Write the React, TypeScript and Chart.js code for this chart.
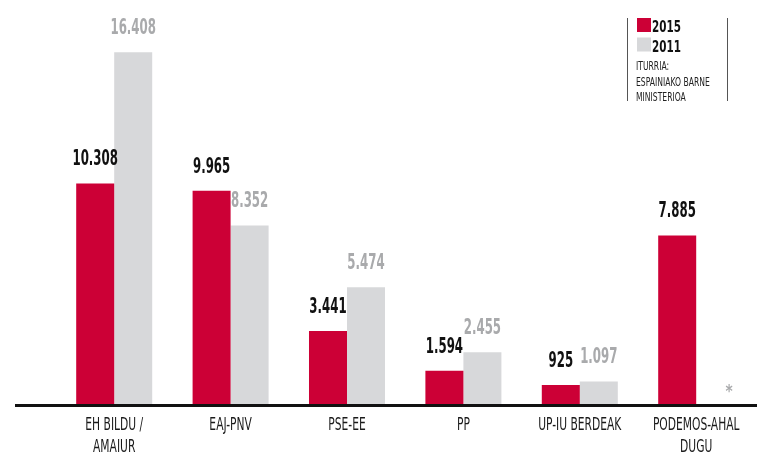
import React, { useEffect, useRef } from "react";
import { Chart, registerables } from "chart.js";

Chart.register(...registerables);

const categories: string[][] = [
  ["EH BILDU /", "AMAIUR"],
  ["EAJ-PNV"],
  ["PSE-EE"],
  ["PP"],
  ["UP-IU BERDEAK"],
  ["PODEMOS-AHAL", "DUGU"],
];
const votes2015: number[] = [10308, 9965, 3441, 1594, 925, 7885];
const votes2011: (number | null)[] = [16408, 8352, 5474, 2455, 1097, null];
const legendLabels = ["2015", "2011"];
const sourceLines = ["ITURRIA:", "ESPAINIAKO BARNE", "MINISTERIOA"];

const RED = "#cc0036";
const GREY = "#d7d8da";
const COND = '"DejaVu Sans Condensed", "DejaVu Sans", sans-serif';

const fmt = (v: number) => v.toLocaleString("de-DE");

function squeezeText(
  ctx: CanvasRenderingContext2D,
  text: string,
  x: number,
  y: number,
  font: string,
  color: string,
  align: CanvasTextAlign,
  sx: number
) {
  ctx.save();
  ctx.font = font;
  ctx.fillStyle = color;
  ctx.textAlign = align;
  ctx.textBaseline = "alphabetic";
  ctx.translate(x, y);
  ctx.scale(sx, 1);
  ctx.fillText(text, 0, 0);
  ctx.restore();
}

const decorPlugin = {
  id: "decor",
  afterDatasetsDraw(chart: any) {
    const ctx = chart.ctx;
    const xs = chart.scales.x;
    const ys = chart.scales.y;
    ctx.save();
    // value labels
    chart.data.datasets.forEach((ds: any, di: number) => {
      const meta = chart.getDatasetMeta(di);
      meta.data.forEach((bar: any, i: number) => {
        const v = ds.data[i];
        if (v == null) return;
        squeezeText(
          ctx,
          fmt(v),
          bar.x,
          bar.y - 18,
          `bold 20.5px ${COND}`,
          di === 0 ? "#111111" : "#a9aaac",
          "center",
          0.64
        );
      });
    });
    // asterisk for missing 2011 value
    chart.data.datasets[1].data.forEach((v: any, i: number) => {
      if (v == null) {
        const x = xs.getPixelForValue(i) + 33;
        squeezeText(ctx, "*", x, ys.bottom - 8, `bold 17px ${COND}`, "#a9aaac", "center", 0.9);
      }
    });
    // category labels
    categories.forEach((lines, i) => {
      const cx = xs.getPixelForValue(i);
      lines.forEach((t, li) => {
        squeezeText(ctx, t, cx, ys.bottom + 25 + li * 22, `17.5px ${COND}`, "#1a1a1a", "center", 0.68);
      });
    });
    // baseline
    ctx.strokeStyle = "#111111";
    ctx.lineWidth = 3;
    ctx.beginPath();
    ctx.moveTo(15, ys.bottom + 0.5);
    ctx.lineTo(chart.width, ys.bottom + 0.5);
    ctx.stroke();
    // legend box
    ctx.strokeStyle = "#555555";
    ctx.lineWidth = 1;
    ctx.beginPath();
    ctx.moveTo(627.5, 18);
    ctx.lineTo(627.5, 101);
    ctx.moveTo(727.5, 18);
    ctx.lineTo(727.5, 101);
    ctx.stroke();
    const colors = [RED, GREY];
    legendLabels.forEach((lab, i) => {
      const y = 18 + i * 19.5;
      ctx.fillStyle = colors[i];
      ctx.fillRect(637, y, 14, 14);
      squeezeText(ctx, lab, 652, y + 14, `bold 16.5px ${COND}`, "#111111", "left", 0.7);
    });
    sourceLines.forEach((t, i) => {
      squeezeText(ctx, t, 636, 70 + i * 15.5, `12.5px ${COND}`, "#222222", "left", 0.68);
    });
    ctx.restore();
  },
};

export default function App() {
  const ref = useRef<HTMLCanvasElement | null>(null);
  useEffect(() => {
    document.body.style.margin = "0";
    if (!ref.current) return;
    const chart = new Chart(ref.current, {
      type: "bar",
      data: {
        labels: categories.map((c) => c.join(" ")),
        datasets: [
          { label: legendLabels[0], data: votes2015, backgroundColor: RED },
          { label: legendLabels[1], data: votes2011, backgroundColor: GREY },
        ],
      },
      options: {
        animation: false,
        responsive: true,
        maintainAspectRatio: false,
        layout: { padding: { left: 56, right: 2.6, top: 18, bottom: 0 } },
        datasets: { bar: { barPercentage: 1, categoryPercentage: 0.653 } },
        plugins: { legend: { display: false }, tooltip: { enabled: false } },
        scales: {
          x: {
            grid: { display: false },
            border: { display: false },
            ticks: { display: false },
            afterFit: (s: any) => {
              s.height = 53;
            },
          },
          y: { display: false, min: 0, max: 18000 },
        },
      },
      plugins: [decorPlugin],
    });
    return () => chart.destroy();
  }, []);
  return (
    <div style={{ position: "relative", width: 757, height: 458 }}>
      <canvas ref={ref} />
    </div>
  );
}
